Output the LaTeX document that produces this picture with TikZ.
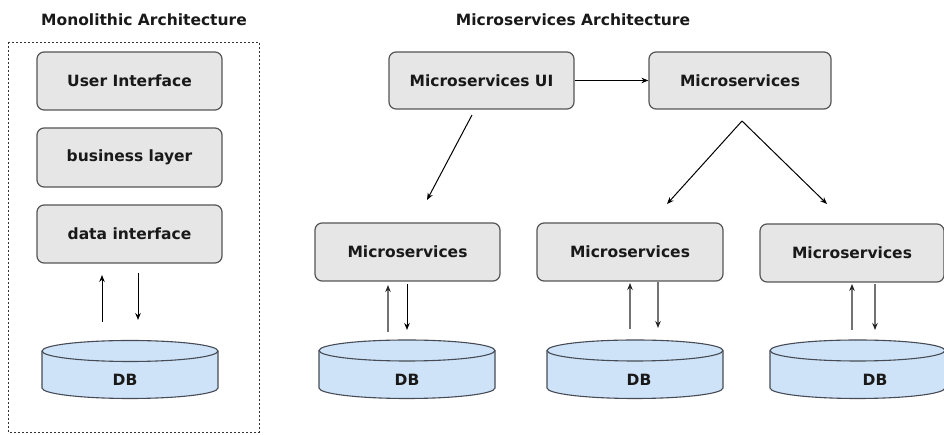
\documentclass[tikz,border=0pt]{standalone}
\usepackage{fontspec}
\setmainfont{DejaVu Sans}
\usetikzlibrary{arrows.meta}
\definecolor{boxfill}{RGB}{230,230,230}
\definecolor{boxline}{RGB}{85,85,85}
\definecolor{dbfill}{RGB}{207,227,248}
\definecolor{dbline}{RGB}{70,75,85}
\definecolor{arrgray}{RGB}{115,115,115}
\tikzset{
  lbl/.style={font=\fontsize{15.5}{18}\selectfont\bfseries, text=black!90},
  boxnode/.style={lbl, draw=boxline, fill=boxfill, line width=1.2pt, rounded corners=7pt, inner sep=0pt},
  conn/.style={line width=1pt, -{Stealth[length=7pt,width=5.5pt]}},
  grayconn/.style={draw=arrgray, line width=1.4pt, -{Stealth[length=7pt,width=5.5pt,fill=black!85,color=black!85]}},
  dbbody/.style={draw=dbline, fill=dbfill, line width=1.1pt},
}
\newcommand{\dbcyl}[4]{% left x, right x, top-ellipse centre Y, bottom-ellipse centre Y
  \pgfmathsetmacro{\cx}{(#1+#2)/2}
  \pgfmathsetmacro{\rx}{(#2-#1)/2}
  \filldraw[dbbody] (#1,#3) -- (#1,#4) arc[start angle=180, end angle=360, x radius=\rx pt, y radius=10.5pt] -- (#2,#3) arc[start angle=0, end angle=180, x radius=\rx pt, y radius=10.5pt] -- cycle;
  \draw[dbbody, fill=none] (#1,#3) arc[start angle=180, end angle=360, x radius=\rx pt, y radius=10.5pt];
}
\begin{document}
\begin{tikzpicture}[x=1pt, y=1pt]
\useasboundingbox (0,0) rectangle (944,435);
\clip (0,0) rectangle (944,435);

% titles
\node[lbl] (t1) at (144,415) {Monolithic Architecture};
\node[lbl] (t2) at (573,415) {Microservices Architecture};

% monolithic dashed frame
\draw[line width=0.9pt, dash pattern=on 2pt off 2pt, black!80] (8,393) rectangle (259,3);

% monolithic layers
\node[boxnode, minimum width=185pt, minimum height=58pt] (ui) at (129.5,354) {User Interface};
\node[boxnode, minimum width=185pt, minimum height=59pt] (bl) at (129.5,277.5) {business layer};
\node[boxnode, minimum width=185pt, minimum height=58pt] (di) at (129.5,201) {data interface};

% monolithic DB
\dbcyl{42}{218}{84}{47}
\node[lbl] (db0) at (125,55) {DB};

\coordinate (m0a) at (102,113); \coordinate (m0b) at (102,160);
\coordinate (m0c) at (138,162); \coordinate (m0d) at (138,115);
\draw[conn] (m0a) -- (m0b);
\draw[conn] (m0c) -- (m0d);

% microservices top row
\node[boxnode, minimum width=185pt, minimum height=57pt] (mui) at (481.5,354.5) {Microservices UI};
\node[boxnode, minimum width=182pt, minimum height=57pt] (mtop) at (740,354.5) {Microservices};
\draw[conn] (mui.east) -- (mtop.west);

% second row
\node[boxnode, minimum width=185pt, minimum height=58pt] (ms1) at (407.5,183) {Microservices};
\node[boxnode, minimum width=186pt, minimum height=58pt] (ms2) at (630,183) {Microservices};
\node[boxnode, minimum width=184pt, minimum height=58pt] (ms3) at (852,182) {Microservices};

% diagonal connectors
\coordinate (d1s) at (472,320); \coordinate (d1e) at (427,235);
\coordinate (d2s) at (742,314); \coordinate (d2e) at (667,231);
\coordinate (d3e) at (827,231);
\draw[conn] (d1s) -- (d1e);
\draw[conn] (d2s) -- (d2e);
\draw[conn] (d2s) -- (d3e);

% DBs
\dbcyl{319}{495}{84.5}{47}
\node[lbl] (db1) at (407,55) {DB};
\dbcyl{547}{723}{84.5}{47}
\node[lbl] (db2) at (639,55) {DB};
\dbcyl{770}{945}{84.5}{47}
\node[lbl] (db3) at (875,55) {DB};

% vertical connectors microservices <-> DB
\coordinate (a1) at (388,103); \coordinate (b1) at (388,150);
\coordinate (c1) at (407,151); \coordinate (e1) at (407,105);
\draw[grayconn] (a1) -- (b1);
\draw[conn] (c1) -- (e1);
\coordinate (a2) at (630,106); \coordinate (b2) at (630,152);
\coordinate (c2) at (658,153); \coordinate (e2) at (658,107);
\draw[grayconn] (a2) -- (b2);
\draw[grayconn] (c2) -- (e2);
\coordinate (a3) at (852,105); \coordinate (b3) at (852,151);
\coordinate (c3) at (875,151); \coordinate (e3) at (875,105);
\draw[grayconn] (a3) -- (b3);
\draw[grayconn] (c3) -- (e3);
\end{tikzpicture}
\end{document}
